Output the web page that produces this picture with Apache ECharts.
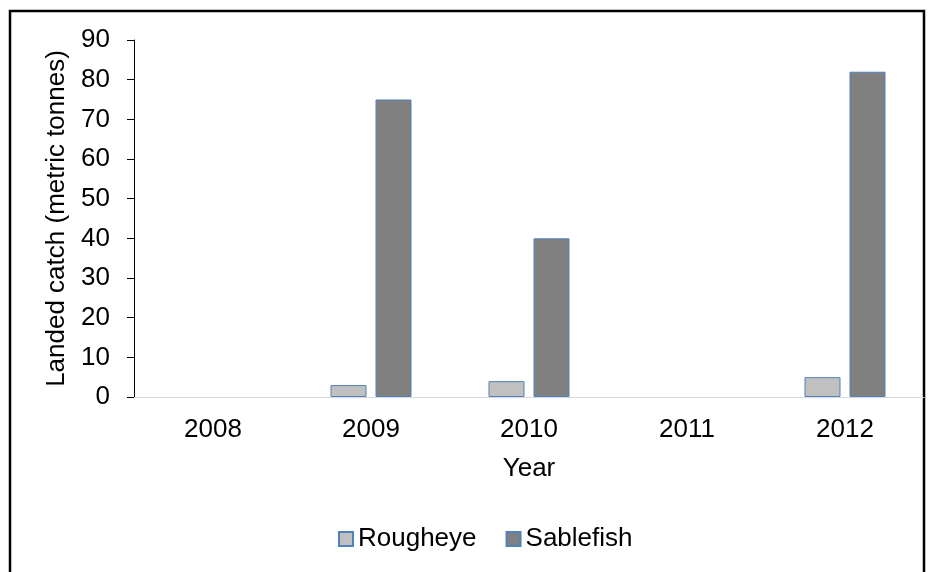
<!DOCTYPE html>
<html>
<head>
<meta charset="utf-8">
<script src="https://cdn.jsdelivr.net/npm/echarts@6/dist/echarts.min.js"></script>
<style>
html,body{margin:0;padding:0;background:#fff;}
#chart{width:941px;height:572px;}
</style>
</head>
<body>
<div id="chart"></div>
<script>
const years = ['2008', '2009', '2010', '2011', '2012'];
const rougheye = [null, 3, 4, null, 5];
const sablefish = [null, 75, 40, null, 82];
const yTicks = { min: 0, max: 90, interval: 10 };

const font = '"Liberation Sans", Arial, sans-serif';
const fs = 26;
const chart = echarts.init(document.getElementById('chart'));
chart.setOption({
  animation: false,
  backgroundColor: '#fff',
  textStyle: { fontFamily: font },
  graphic: [{
    type: 'rect',
    shape: { x: 10, y: 11, width: 914, height: 600 },
    style: { fill: 'none', stroke: '#000', lineWidth: 2.5 },
    silent: true
  }],
  grid: { left: 134, right: 17, top: 40, bottom: 175 },
  legend: {
    left: 333, top: 521,
    itemWidth: 14, itemHeight: 14, itemGap: 29,
    textStyle: { fontSize: fs, color: '#000', fontFamily: font },
    data: [
      { name: 'Rougheye', icon: 'rect' },
      { name: 'Sablefish', icon: 'rect' }
    ]
  },
  xAxis: {
    type: 'category',
    data: years,
    name: 'Year',
    nameLocation: 'middle',
    nameGap: 59,
    nameTextStyle: { fontSize: fs, color: '#000', fontFamily: font },
    axisLine: { lineStyle: { color: '#d9d9d9', width: 1 } },
    axisTick: { show: false },
    axisLabel: { fontSize: fs, color: '#000', margin: 20, fontFamily: font }
  },
  yAxis: {
    type: 'value',
    min: yTicks.min, max: yTicks.max, interval: yTicks.interval,
    name: 'Landed catch (metric tonnes)',
    nameLocation: 'middle',
    nameGap: 59,
    nameTextStyle: { fontSize: fs, color: '#000', fontFamily: font },
    axisLine: { show: true, lineStyle: { color: '#000', width: 1 } },
    axisTick: { show: true, length: 7, lineStyle: { color: '#000' } },
    axisLabel: { fontSize: fs, color: '#000', margin: 24, fontFamily: font },
    splitLine: { show: false }
  },
  series: [
    {
      name: 'Rougheye', type: 'bar', data: rougheye,
      barWidth: 36, barGap: '25%',
      itemStyle: { color: '#c0c0c0', borderColor: '#4f81bd', borderWidth: 1 }
    },
    {
      name: 'Sablefish', type: 'bar', data: sablefish,
      barWidth: 36, barGap: '25%',
      itemStyle: { color: '#808080', borderColor: '#4f81bd', borderWidth: 1 }
    }
  ]
});
</script>
</body>
</html>
